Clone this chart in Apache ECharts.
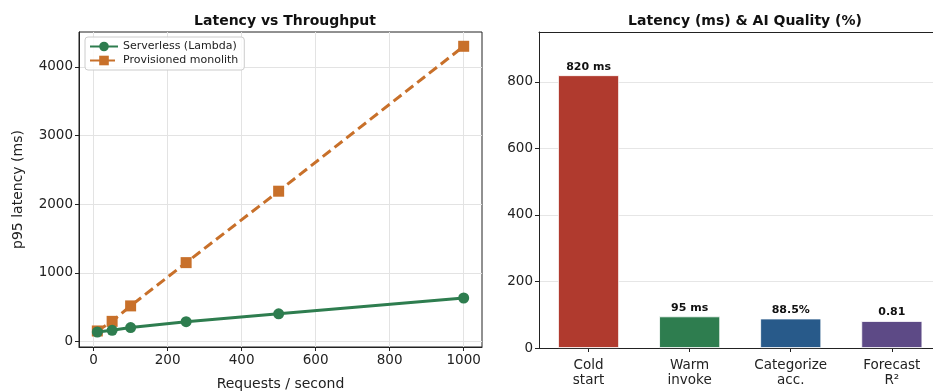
<!DOCTYPE html>
<html>
<head>
<meta charset="utf-8">
<script src="https://cdn.jsdelivr.net/npm/echarts@6/dist/echarts.min.js"></script>
<style>html,body{margin:0;padding:0;background:#fff}#c{width:933px;height:392px}</style>
</head>
<body>
<div id="c"></div>
<script>
// Left chart data
const rps = [10, 50, 100, 250, 500, 1000];
const serverless = [140, 165, 205, 290, 405, 635];
const monolith = [155, 295, 520, 1150, 2190, 4300];
const xTicks = [0, 200, 400, 600, 800, 1000];
const yTicks = [0, 1000, 2000, 3000, 4000];
// Right chart data
const barCats = ['Cold\nstart', 'Warm\ninvoke', 'Categorize\nacc.', 'Forecast\nR²'];
const barVals = [820, 95, 88.5, 81];
const barLabels = ['820 ms', '95 ms', '88.5%', '0.81'];
const barColors = ['#B03A2E', '#2E7D4F', '#285A8A', '#5D4A86'];
const barYTicks = [0, 200, 400, 600, 800];
const barPos = [0, 1, 2, 3];

const FONT = 'DejaVu Sans';
const ink = '#222';
const tickFont = {fontFamily: FONT, fontSize: 13.5, color: ink};
const chart = echarts.init(document.getElementById('c'), null, {renderer: 'canvas'});
chart.setOption({
  animation: false,
  textStyle: {fontFamily: FONT},
  title: [
    {text: 'Latency vs Throughput', left: 280, top: 9, textAlign: 'center',
     textStyle: {fontFamily: FONT, fontSize: 14, fontWeight: 'bold', color: '#111'}},
    {text: 'Latency (ms) & AI Quality (%)', left: 740, top: 9, textAlign: 'center',
     textStyle: {fontFamily: FONT, fontSize: 14, fontWeight: 'bold', color: '#111'}}
  ],
  legend: {
    orient: 'vertical', left: 85, top: 37,
    itemWidth: 28, itemHeight: 12, itemGap: 3,
    padding: [4, 6, 4, 4],
    borderColor: '#ccc', borderWidth: 1, borderRadius: 3,
    backgroundColor: 'rgba(255,255,255,0.85)',
    textStyle: {fontFamily: FONT, fontSize: 11, color: ink},
    data: ['Serverless (Lambda)', 'Provisioned monolith']
  },
  grid: [
    {left: 79, top: 32, width: 403, height: 315, outerBoundsMode: 'none', containLabel: false,
     show: true, borderColor: ink, borderWidth: 1, backgroundColor: 'transparent'},
    {left: 539, top: 32, width: 394, height: 316, outerBoundsMode: 'none', containLabel: false, show: false}
  ],
  xAxis: [
    {type: 'value', gridIndex: 0, min: -39.5, max: 1049.5,
     name: 'Requests / second', nameLocation: 'middle', nameGap: 30,
     nameTextStyle: {fontFamily: FONT, fontSize: 14, color: ink},
     axisLine: {show: true, onZero: false, lineStyle: {color: ink}},
     axisTick: {show: true, length: 4, lineStyle: {color: ink}, customValues: xTicks},
     axisLabel: Object.assign({margin: 6, customValues: xTicks, formatter: v => String(v)}, tickFont),
     splitLine: {show: true, lineStyle: {color: '#e3e3e3', width: 1}}},
    {type: 'value', gridIndex: 1, min: -0.49, max: -0.49 + 394 / 101.1, position: 'bottom',
     axisLine: {show: true, onZero: false, lineStyle: {color: ink}},
     axisTick: {show: true, length: 4, lineStyle: {color: ink}, customValues: barPos},
     axisLabel: Object.assign({margin: 10, lineHeight: 15, customValues: barPos,
       formatter: v => barCats[Math.round(v)] || ''}, tickFont),
     splitLine: {show: false}},
    {type: 'value', gridIndex: 1, min: -0.49, max: -0.49 + 394 / 101.1, position: 'top',
     axisLine: {show: true, onZero: false, lineStyle: {color: ink}},
     axisTick: {show: false}, axisLabel: {show: false}, splitLine: {show: false}}
  ],
  yAxis: [
    {type: 'value', gridIndex: 0, min: -78.5, max: 4508,
     name: 'p95 latency (ms)', nameLocation: 'middle', nameGap: 54,
     nameTextStyle: {fontFamily: FONT, fontSize: 14, color: ink},
     axisLine: {show: true, onZero: false, lineStyle: {color: ink}},
     axisTick: {show: true, length: 4, lineStyle: {color: ink}, customValues: yTicks},
     axisLabel: Object.assign({margin: 6, customValues: yTicks, formatter: v => String(v)}, tickFont),
     splitLine: {show: true, lineStyle: {color: '#e3e3e3', width: 1}}},
    {type: 'value', gridIndex: 1, min: 0, max: 950,
     axisLine: {show: true, onZero: false, lineStyle: {color: ink}},
     axisTick: {show: true, length: 4, lineStyle: {color: ink}, customValues: barYTicks},
     axisLabel: Object.assign({margin: 6, customValues: barYTicks, formatter: v => String(v)}, tickFont),
     splitLine: {show: true, lineStyle: {color: '#e6e6e6', width: 1}}}
  ],
  series: [
    {name: 'Serverless (Lambda)', type: 'line', xAxisIndex: 0, yAxisIndex: 0,
     data: rps.map((x, i) => [x, serverless[i]]),
     symbol: 'circle', symbolSize: 11,
     lineStyle: {color: '#2E7D4F', width: 3},
     itemStyle: {color: '#2E7D4F'}, z: 3},
    {name: 'Provisioned monolith', type: 'line', xAxisIndex: 0, yAxisIndex: 0,
     data: rps.map((x, i) => [x, monolith[i]]),
     symbol: 'rect', symbolSize: 11,
     lineStyle: {color: '#C8702A', width: 3, type: [10, 5]},
     itemStyle: {color: '#C8702A'}, z: 2},
    {name: 'bars', type: 'bar', xAxisIndex: 1, yAxisIndex: 1,
     barWidth: 61,
     data: barVals.map((v, i) => ({value: [barPos[i], v], itemStyle: {color: barColors[i]}})),
     itemStyle: {borderColor: '#fff', borderWidth: 0.8},
     label: {show: true, position: 'top', distance: 3,
       fontFamily: FONT, fontSize: 11, fontWeight: 'bold', color: '#111',
       formatter: p => barLabels[p.dataIndex]}}
  ]
});
</script>
</body>
</html>
